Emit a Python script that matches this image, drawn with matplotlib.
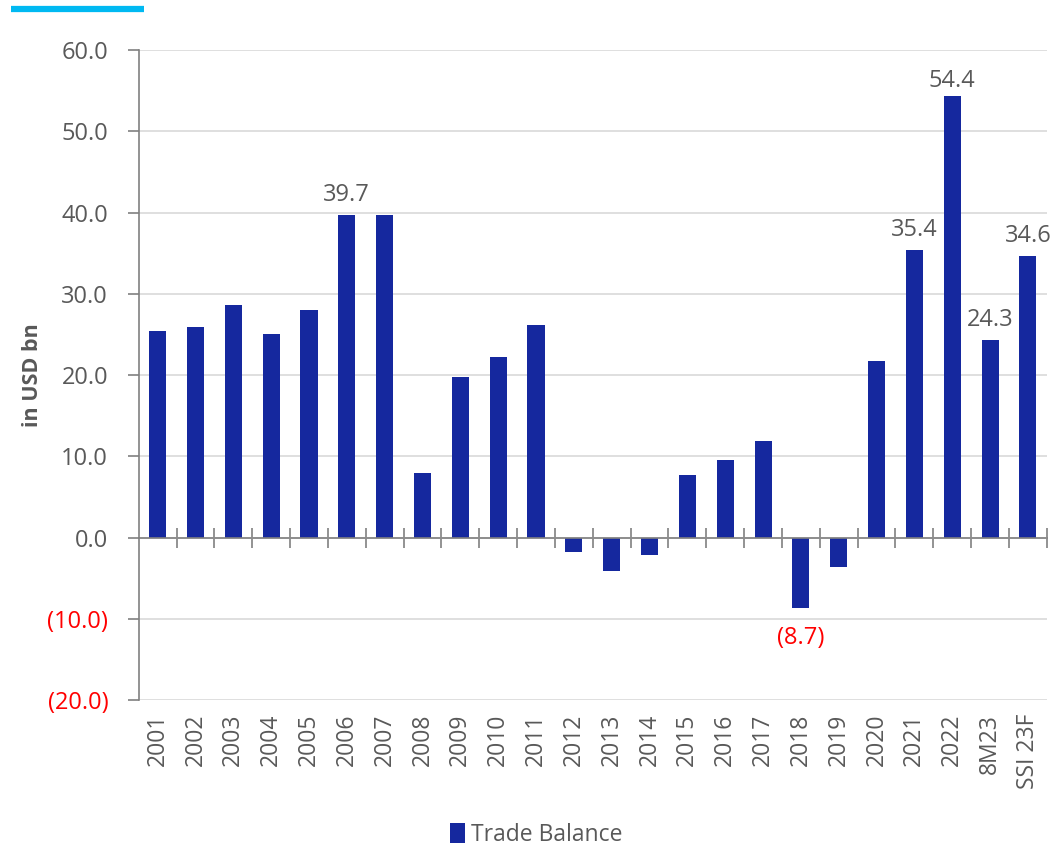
import matplotlib
matplotlib.use("Agg")
import matplotlib.pyplot as plt
from matplotlib.lines import Line2D
from matplotlib.ticker import FixedLocator, FuncFormatter

plt.rcParams['font.family'] = ['Open Sans', 'DejaVu Sans']

# data
categories = ['2001', '2002', '2003', '2004', '2005', '2006', '2007', '2008',
              '2009', '2010', '2011', '2012', '2013', '2014', '2015', '2016',
              '2017', '2018', '2019', '2020', '2021', '2022', '8M23', 'SSI 23F']
trade_balance = [25.4, 25.9, 28.6, 25.1, 28.0, 39.7, 39.7, 7.9,
                 19.7, 22.2, 26.1, -1.8, -4.1, -2.2, 7.7, 9.6,
                 11.9, -8.7, -3.6, 21.7, 35.4, 54.4, 24.3, 34.6]
labelled = ['2006', '2021', '2022', '8M23', 'SSI 23F', '2018']

bar_color = '#15289E'
grey = '#595959'

fig = plt.figure(figsize=(10.51, 8.49), dpi=100)
ax = fig.add_axes([0.132, 0.1755, 0.864, 0.7655])

x = list(range(len(categories)))
ax.bar(x, trade_balance, width=0.45, color=bar_color, zorder=3,
       label='Trade Balance')

ax.set_xlim(-0.5, len(categories) - 0.5)
ax.set_ylim(-20, 60)
ax.set_yticks(range(-20, 61, 10))
ax.grid(axis='y', color='#D9D9D9', lw=1.2, zorder=0)

def fmt(v, pos):
    return f"({abs(v):.1f})" if v < 0 else f"{v:.1f}"
ax.yaxis.set_major_formatter(FuncFormatter(fmt))
ax.tick_params(axis='y', labelsize=17, colors='#808080', length=8,
               width=1.2, pad=14)
for lab, v in zip(ax.get_yticklabels(), ax.get_yticks()):
    lab.set_color('red' if v < 0 else grey)

for s in ['top', 'right']:
    ax.spines[s].set_visible(False)
ax.spines['left'].set_color('#808080')
ax.spines['left'].set_linewidth(1.2)
ax.spines['bottom'].set_position(('data', 0))
ax.spines['bottom'].set_color('#808080')
ax.spines['bottom'].set_linewidth(1.2)
ax.spines['bottom'].set_zorder(4)

# boundary ticks on the zero line
ax.xaxis.set_major_locator(FixedLocator([i + 0.5 for i in x]))
ax.xaxis.set_major_formatter(FuncFormatter(lambda v, p: ''))
ax.tick_params(axis='x', direction='inout', length=14, width=1.2,
               colors='#808080')

# category labels at the bottom
sec = ax.secondary_xaxis(0)
sec.set_xticks(x)
sec.set_xticklabels(categories, rotation=90, fontsize=16.5, color=grey)
sec.tick_params(length=0, pad=10)
sec.spines['bottom'].set_visible(False)

ax.set_ylabel('in USD bn', fontsize=15.5, fontweight='bold', color=grey)
ax.yaxis.set_label_coords(-(96 / (0.864 * 1051)), 0.5)

# data labels
for cat, v in zip(categories, trade_balance):
    if cat not in labelled:
        continue
    i = categories.index(cat)
    if v < 0:
        ax.annotate(f"({abs(v):.1f})", (i, v), xytext=(0, -13),
                    textcoords='offset points', ha='center', va='top',
                    fontsize=17, color='red')
    else:
        off = 2 if v > 50 else 6
        ax.annotate(f"{v:.1f}", (i, v), xytext=(0, off),
                    textcoords='offset points', ha='center', va='bottom',
                    fontsize=17, color=grey)

fig.legend(loc='center', bbox_to_anchor=(0.51, 1 - 835 / 849), frameon=False,
           fontsize=16.5, handlelength=0.65, handleheight=1.0,
           handletextpad=0.25, labelcolor=grey)

# accent line at top left
fig.add_artist(Line2D([11 / 1051, 144 / 1051], [1 - 9 / 849] * 2,
                      transform=fig.transFigure, color='#00B9F2', lw=4.5,
                      solid_capstyle='butt'))

fig.savefig('out.png', dpi=100)
